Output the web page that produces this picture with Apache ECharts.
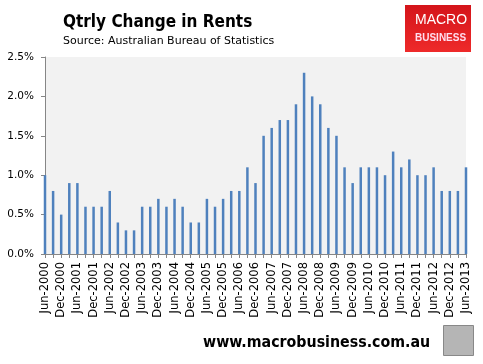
<!DOCTYPE html>
<html><head><meta charset="utf-8">
<script src="https://cdn.jsdelivr.net/npm/echarts@6/dist/echarts.min.js"></script>
<style>html,body{margin:0;padding:0;background:#fff}#c{width:483px;height:364px}</style>
</head><body><div id="c"></div>
<script>
var categories = ["Jun-2000","Sep-2000","Dec-2000","Mar-2001","Jun-2001","Sep-2001","Dec-2001","Mar-2002","Jun-2002","Sep-2002","Dec-2002","Mar-2003","Jun-2003","Sep-2003","Dec-2003","Mar-2004","Jun-2004","Sep-2004","Dec-2004","Mar-2005","Jun-2005","Sep-2005","Dec-2005","Mar-2006","Jun-2006","Sep-2006","Dec-2006","Mar-2007","Jun-2007","Sep-2007","Dec-2007","Mar-2008","Jun-2008","Sep-2008","Dec-2008","Mar-2009","Jun-2009","Sep-2009","Dec-2009","Mar-2010","Jun-2010","Sep-2010","Dec-2010","Mar-2011","Jun-2011","Sep-2011","Dec-2011","Mar-2012","Jun-2012","Sep-2012","Dec-2012","Mar-2013","Jun-2013"];
var rentChange = [1.0,0.8,0.5,0.9,0.9,0.6,0.6,0.6,0.8,0.4,0.3,0.3,0.6,0.6,0.7,0.6,0.7,0.6,0.4,0.4,0.7,0.6,0.7,0.8,0.8,1.1,0.9,1.5,1.6,1.7,1.7,1.9,2.3,2.0,1.9,1.6,1.5,1.1,0.9,1.1,1.1,1.1,1.0,1.3,1.1,1.2,1.0,1.0,1.1,0.8,0.8,0.8,1.1];
var yTicks = [0, 0.5, 1.0, 1.5, 2.0, 2.5];
var titleText = "Qtrly Change in Rents";
var subtitleText = "Source: Australian Bureau of Statistics";
var footerText = "www.macrobusiness.com.au";

var chart = echarts.init(document.getElementById('c'), null, {renderer:'canvas'});
chart.setOption({
  animation:false,
  backgroundColor:'#fff',
  grid:{left:45,right:17,top:57,bottom:110,show:true,backgroundColor:'#f2f2f2',borderWidth:0},
  title:[
    {text:titleText,left:63,top:14,padding:0,textStyle:{fontFamily:'DejaVu Sans Condensed',fontWeight:'bold',fontSize:17,color:'#000'}},
    {text:subtitleText,left:63,top:36,padding:0,textStyle:{fontFamily:'DejaVu Sans',fontWeight:'normal',fontSize:11,color:'#000'}}
  ],
  xAxis:{type:'category',data:categories,boundaryGap:false,
    axisLine:{lineStyle:{color:'#868686'}},
    axisTick:{show:true,interval:0,length:4,lineStyle:{color:'#868686'}},
    axisLabel:{interval:1,rotate:90,fontFamily:'DejaVu Sans',fontSize:11.5,color:'#000',margin:8}},
  yAxis:{type:'value',min:yTicks[0],max:yTicks[yTicks.length-1],interval:0.5,
    axisLine:{show:true,lineStyle:{color:'#868686'}},
    axisTick:{show:true,length:4,lineStyle:{color:'#868686'}},
    splitLine:{show:false},
    axisLabel:{formatter:function(v){return v.toFixed(1)+'%';},fontFamily:'DejaVu Sans',fontSize:10.5,color:'#000',margin:11}},
  series:[{type:'bar',data:rentChange,barWidth:2.5,itemStyle:{color:'#4f81bd'}}],
  graphic:[
    {type:'rect',left:405,top:5,shape:{width:66,height:47},style:{fill:new echarts.graphic.LinearGradient(0,0,0,1,[{offset:0,color:'#d4141a'},{offset:1,color:'#ee2a2a'}])}},
    {type:'text',left:415,top:13,style:{text:'MACRO',fill:'#fff',font:'14px "Liberation Sans"'}},
    {type:'text',left:415,top:33,style:{text:'BUSINESS',fill:'#fde',font:'bold 10px "Liberation Sans"'}},
    {type:'text',left:203,top:335,style:{text:footerText,fill:'#000',font:'bold 15.8px "DejaVu Sans Condensed"'}},
    {type:'rect',left:443,top:325,shape:{width:30,height:30},style:{fill:'#b5b5b5',stroke:'#888',lineWidth:1}}
  ]
});
</script></body></html>
